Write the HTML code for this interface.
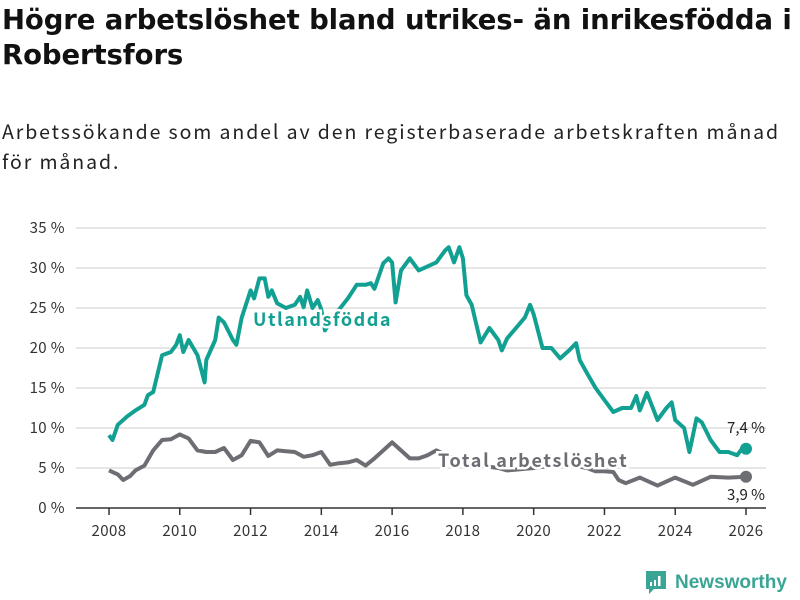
<!DOCTYPE html>
<html><head><meta charset="utf-8"><style>
body{margin:0;background:#fff;width:800px;height:600px;overflow:hidden;font-family:"Noto Sans CJK JP","Liberation Sans",sans-serif;}
h1{position:absolute;left:2px;top:3px;margin:0;font-size:27.5px;line-height:35px;font-weight:bold;color:#111;width:798px;font-family:"DejaVu Sans","Liberation Sans",sans-serif;letter-spacing:-0.1px}
.sub{position:absolute;left:2px;top:116px;font-size:19.5px;line-height:30px;color:#222;width:795px;letter-spacing:1.9px;font-family:"Noto Sans CJK JP","Liberation Sans",sans-serif;}
svg text{font-family:"Noto Sans CJK JP","Liberation Sans",sans-serif;}
</style></head><body>
<h1>Högre arbetslöshet bland utrikes- än inrikesfödda i Robertsfors</h1>
<div class="sub">Arbetssökande som andel av den registerbaserade arbetskraften månad<br>för månad.</div>
<svg id="c" width="800" height="600" style="position:absolute;left:0;top:0"></svg>
<script>
const yTicks=[0,5,10,15,20,25,30,35];
const xTicks=[2008,2010,2012,2014,2016,2018,2020,2022,2024,2026];
const utlT=[2008,2008.1,2008.25,2008.5,2008.75,2009,2009.1,2009.25,2009.5,2009.75,2009.9,2010,2010.1,2010.25,2010.5,2010.7,2010.75,2011,2011.1,2011.25,2011.5,2011.6,2011.75,2012,2012.1,2012.25,2012.4,2012.5,2012.6,2012.75,2013,2013.25,2013.4,2013.5,2013.6,2013.75,2013.9,2014,2014.1,2014.5,2014.75,2015,2015.25,2015.4,2015.5,2015.75,2015.9,2016,2016.1,2016.25,2016.5,2016.75,2017,2017.25,2017.5,2017.6,2017.75,2017.9,2018,2018.1,2018.25,2018.5,2018.75,2019,2019.1,2019.25,2019.5,2019.75,2019.9,2020,2020.25,2020.5,2020.75,2021,2021.2,2021.3,2021.5,2021.75,2022,2022.25,2022.5,2022.75,2022.9,2023,2023.2,2023.5,2023.75,2023.9,2024,2024.25,2024.4,2024.6,2024.75,2025,2025.25,2025.5,2025.75,2025.9,2026];
const utlV=[9.1,8.5,10.4,11.4,12.2,12.9,14.1,14.5,19.1,19.5,20.4,21.6,19.5,21,19.1,15.7,18.5,21,23.8,23.2,21,20.4,23.8,27.2,26.2,28.7,28.7,26.4,27.2,25.6,25,25.4,26.4,25.1,27.2,25,26,24.8,22.2,24.8,26.2,27.9,27.9,28.1,27.4,30.6,31.2,30.7,25.7,29.7,31.2,29.7,30.2,30.7,32.2,32.6,30.7,32.6,31.2,26.6,25.4,20.7,22.5,21,19.7,21.2,22.5,23.8,25.4,24.2,20,20,18.7,19.7,20.6,18.5,16.9,15,13.5,12,12.5,12.5,14,12.2,14.4,11,12.5,13.2,11,10,7,11.2,10.7,8.5,7,7,6.6,7.5,7.4];
const totT=[2008,2008.25,2008.4,2008.6,2008.75,2009,2009.25,2009.5,2009.75,2010,2010.25,2010.5,2010.75,2011,2011.25,2011.5,2011.75,2012,2012.25,2012.5,2012.75,2013,2013.25,2013.5,2013.75,2014,2014.25,2014.5,2014.75,2015,2015.25,2015.5,2015.75,2016,2016.25,2016.5,2016.75,2017,2017.25,2017.75,2018,2018.5,2019,2019.25,2019.5,2020,2020.5,2021,2021.5,2021.75,2022,2022.25,2022.4,2022.6,2023,2023.5,2024,2024.5,2025,2025.5,2026];
const totV=[4.7,4.2,3.5,4,4.7,5.3,7.2,8.5,8.6,9.2,8.7,7.2,7,7,7.5,6,6.6,8.4,8.2,6.5,7.2,7.1,7,6.4,6.6,7,5.4,5.6,5.7,6,5.3,6.2,7.2,8.2,7.2,6.2,6.2,6.6,7.2,6.2,5.8,5.3,5,4.7,4.8,5,5.3,5.5,5,4.6,4.6,4.5,3.5,3.1,3.8,2.8,3.8,2.9,3.9,3.8,3.9];
const svg=document.getElementById('c');const NS='http://www.w3.org/2000/svg';
const X=t=>109+(t-2008)*(637/18);const Y=v=>508-v*8;
function mk(tag,at,txt){const e=document.createElementNS(NS,tag);for(const k in at)e.setAttribute(k,at[k]);if(txt!==undefined)e.textContent=txt;svg.appendChild(e);return e;}
yTicks.forEach(v=>{
const g=mk('line',{x1:76,x2:766,y1:Y(v),y2:Y(v),stroke:v===0?'#333':'#ddd','stroke-width':1.5});


const t=mk('text',{x:65,y:Y(v)+5,'text-anchor':'end','font-size':15,'letter-spacing':0.4,fill:'#333'},v+' %');


});
xTicks.forEach(v=>{
const l=mk('line',{x1:X(v),x2:X(v),y1:508,y2:515,stroke:'#333','stroke-width':1.5});


const t=mk('text',{x:X(v),y:536,'text-anchor':'middle','font-size':15,'letter-spacing':0.4,fill:'#333'},v);


});
function line(T,V,col,name){const p=mk('path',{d:T.map((t,i)=>(i?'L':'M')+X(t).toFixed(1)+' '+Y(V[i]).toFixed(1)).join(''),fill:'none',stroke:col,'stroke-width':4,'stroke-linejoin':'round'});


const c=mk('circle',{cx:X(T[T.length-1]),cy:Y(V[V.length-1]),r:6,fill:col});

}
line(totT,totV,'#6d6d74','total-line');
line(utlT,utlV,'#12a092','utlandsfodda-line');
const a=mk('text',{x:253,y:326,'font-size':18,'font-weight':'bold','letter-spacing':1.5,fill:'#12a092',stroke:'#fff','stroke-width':5,'paint-order':'stroke'},'Utlandsfödda');


const b=mk('text',{x:438,y:467,'font-size':18,'font-weight':'bold','letter-spacing':1.7,fill:'#6d6d74',stroke:'#fff','stroke-width':5,'paint-order':'stroke'},'Total arbetslöshet');


const c1=mk('text',{x:746,y:433,'text-anchor':'middle','font-size':15,fill:'#222'},'7,4 %');


const c2=mk('text',{x:746,y:500,'text-anchor':'middle','font-size':15,fill:'#222'},'3,9 %');


</script>
<div style="position:absolute;left:645px;top:570px;display:flex;align-items:center;">
<svg width="22" height="26" viewBox="0 0 22 26"><path d="M1 1h20v18H9l-5 5v-5H1z" fill="#3aa594"/><rect x="5" y="12" width="2" height="4" fill="#fff"/><rect x="9" y="10" width="2" height="6" fill="#fff"/><rect x="13" y="6" width="2.5" height="10" fill="#fff"/></svg>
<span style="margin-left:8px;font-size:19px;font-weight:bold;color:#3aa594;font-family:'Liberation Sans',sans-serif;">Newsworthy</span></div>
</body></html>
